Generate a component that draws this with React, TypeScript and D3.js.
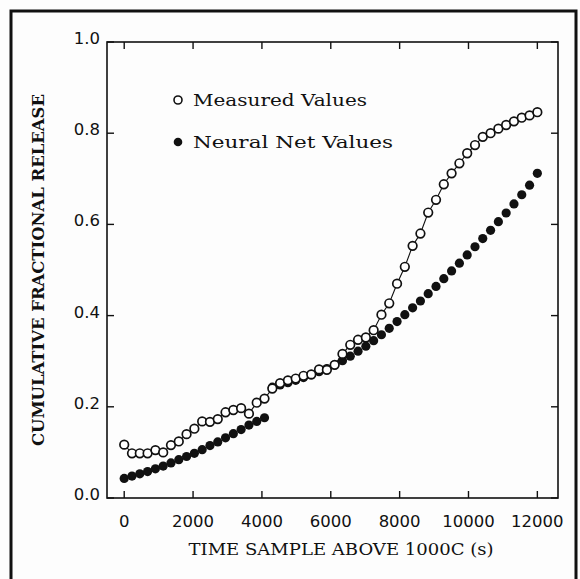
import React from "react";
import * as d3 from "d3";

// time samples (s) shared by both series
const sampleTimes = [
  0, 226, 453, 679, 906, 1132, 1358, 1585, 1811, 2038, 2264, 2491, 2717, 2943,
  3170, 3396, 3623, 3849, 4075, 4302, 4528, 4755, 4981, 5208, 5434, 5660, 5887,
  6113, 6340, 6566, 6792, 7019, 7245, 7472, 7698, 7925, 8151, 8377, 8604, 8830,
  9057, 9283, 9509, 9736, 9962, 10189, 10415, 10642, 10868, 11094, 11321, 11547,
  11774, 12000,
];

const measuredValues = [
  0.117, 0.098, 0.098, 0.098, 0.105, 0.1, 0.116, 0.124, 0.14, 0.152, 0.168,
  0.167, 0.173, 0.188, 0.193, 0.197, 0.185, 0.209, 0.218, 0.24, 0.252, 0.258,
  0.262, 0.268, 0.271, 0.282, 0.281, 0.292, 0.316, 0.336, 0.347, 0.352, 0.368,
  0.402, 0.427, 0.47, 0.507, 0.553, 0.58, 0.626, 0.654, 0.688, 0.712, 0.734,
  0.756, 0.774, 0.792, 0.8, 0.81, 0.818, 0.826, 0.834, 0.839, 0.846,
];

const neuralNetValues = [
  0.043, 0.048, 0.053, 0.058, 0.064, 0.07, 0.077, 0.084, 0.091, 0.098, 0.106,
  0.115, 0.123, 0.132, 0.141, 0.15, 0.16, 0.168, 0.176, 0.243, 0.248, 0.253,
  0.258, 0.264, 0.27, 0.277, 0.284, 0.292, 0.301, 0.311, 0.322, 0.333, 0.345,
  0.358, 0.372, 0.387, 0.402, 0.417, 0.432, 0.448, 0.464, 0.481, 0.498, 0.515,
  0.533, 0.551, 0.569, 0.587, 0.606, 0.625, 0.645, 0.665, 0.686, 0.712,
];

const xTickValues = [0, 2000, 4000, 6000, 8000, 10000, 12000];
const yTickValues = [0, 0.2, 0.4, 0.6, 0.8, 1.0];

const xTitle = "TIME SAMPLE ABOVE 1000C (s)";
const yTitle = "CUMULATIVE FRACTIONAL RELEASE";
const legendLabels = ["Measured Values", "Neural Net Values"];

const W = 580;
const H = 579;
const plot = { left: 107, right: 558, top: 42, bottom: 498 };

const App = () => {
  const x = d3.scaleLinear().domain([-500, 12600]).range([plot.left, plot.right]);
  const y = d3.scaleLinear().domain([0, 1]).range([plot.bottom, plot.top]);

  const measured = sampleTimes.map((t, i) => ({ t, v: measuredValues[i] }));
  const neural = sampleTimes.map((t, i) => ({ t, v: neuralNetValues[i] }));

  const line = d3
    .line<{ t: number; v: number }>()
    .x((d) => x(d.t))
    .y((d) => y(d.v));

  const tickLen = 7;
  const labelFont = "'DejaVu Sans', sans-serif";
  const titleFont = "'DejaVu Serif', serif";

  return (
    <svg
      width={W}
      height={H}
      style={{ position: "absolute", left: 0, top: 0, background: "#fff" }}
    >
      <rect x={0} y={0} width={W} height={H} fill="#fdfdfd" />
      {/* outer frame */}
      <path
        d={`M11,${H + 5} L11,11 L576,11 L576,${H + 5}`}
        fill="none"
        stroke="#111"
        strokeWidth={3}
      />

      {/* plot box */}
      <rect
        x={plot.left}
        y={plot.top}
        width={plot.right - plot.left}
        height={plot.bottom - plot.top}
        fill="none"
        stroke="#111"
        strokeWidth={1.6}
      />

      {/* x ticks, top and bottom, inward */}
      {xTickValues.map((t) => (
        <g key={"xt" + t}>
          <line x1={x(t)} x2={x(t)} y1={plot.bottom} y2={plot.bottom - tickLen} stroke="#111" strokeWidth={1.4} />
          <line x1={x(t)} x2={x(t)} y1={plot.top} y2={plot.top + tickLen} stroke="#111" strokeWidth={1.4} />
          <text
            x={x(t)}
            y={plot.bottom + 29}
            textAnchor="middle"
            fontFamily={labelFont}
            fontSize={16.5}
            fill="#111"
          >
            {t}
          </text>
        </g>
      ))}

      {/* y ticks, left and right, inward */}
      {yTickValues.map((v) => (
        <g key={"yt" + v}>
          <line x1={plot.left} x2={plot.left + tickLen} y1={y(v)} y2={y(v)} stroke="#111" strokeWidth={1.4} />
          <line x1={plot.right} x2={plot.right - tickLen} y1={y(v)} y2={y(v)} stroke="#111" strokeWidth={1.4} />
          <text
            x={plot.left - 7}
            y={y(v) + 2}
            textAnchor="end"
            fontFamily={labelFont}
            fontSize={16.5}
            fill="#111"
          >
            {v.toFixed(1)}
          </text>
        </g>
      ))}

      {/* axis titles */}
      <text
        x={341}
        y={555}
        textAnchor="middle"
        fontFamily={titleFont}
        fontSize={17}
        textLength={305}
        lengthAdjust="spacingAndGlyphs"
        fill="#111"
      >
        {xTitle}
      </text>
      <text
        transform="translate(44,270) rotate(-90)"
        textAnchor="middle"
        fontFamily={titleFont}
        fontSize={16}
        fontWeight="bold"
        textLength={352}
        lengthAdjust="spacingAndGlyphs"
        fill="#111"
      >
        {yTitle}
      </text>

      {/* neural net values */}
      {neural.map((d, i) => (
        <circle key={"n" + i} cx={x(d.t)} cy={y(d.v)} r={4.6} fill="#111" />
      ))}

      {/* measured values */}
      <path d={line(measured) || ""} fill="none" stroke="#111" strokeWidth={1.1} />
      {measured.map((d, i) => (
        <circle
          key={"m" + i}
          cx={x(d.t)}
          cy={y(d.v)}
          r={4.3}
          fill="#fff"
          stroke="#111"
          strokeWidth={1.7}
        />
      ))}

      {/* legend */}
      <circle cx={178} cy={100} r={4} fill="#fff" stroke="#111" strokeWidth={1.6} />
      <text
        x={193}
        y={106}
        fontFamily={titleFont}
        fontSize={16}
        textLength={174}
        lengthAdjust="spacingAndGlyphs"
        fill="#111"
      >
        {legendLabels[0]}
      </text>
      <circle cx={178} cy={142} r={4.3} fill="#111" />
      <text
        x={193}
        y={148}
        fontFamily={titleFont}
        fontSize={16}
        textLength={200}
        lengthAdjust="spacingAndGlyphs"
        fill="#111"
      >
        {legendLabels[1]}
      </text>
    </svg>
  );
};

export default App;
